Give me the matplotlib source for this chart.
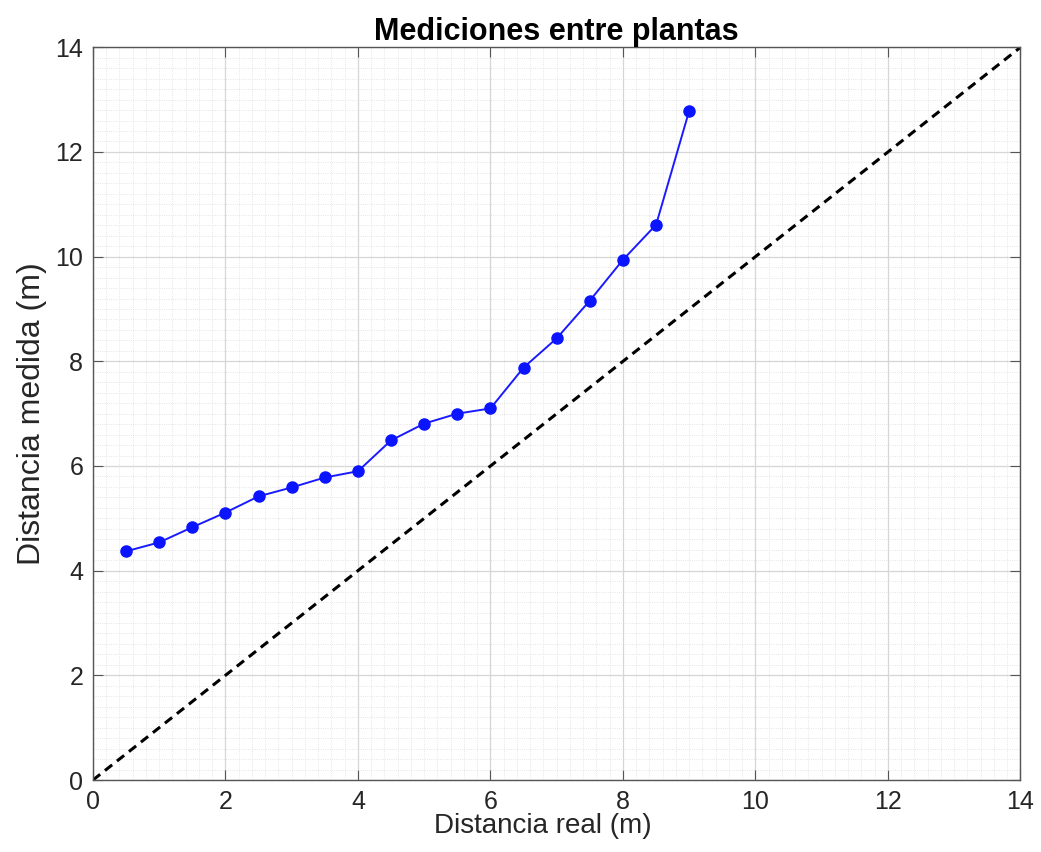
import matplotlib
matplotlib.use("Agg")
import matplotlib.pyplot as plt
import numpy as np
from matplotlib.ticker import MultipleLocator

plt.rcParams["font.family"] = ["Liberation Sans", "DejaVu Sans"]

# distancia real (m) y distancia medida (m)
dist_real = [0.5, 1.0, 1.5, 2.0, 2.5, 3.0, 3.5, 4.0, 4.5, 5.0, 5.5, 6.0,
             6.5, 7.0, 7.5, 8.0, 8.5, 9.0]
dist_medida = [4.37, 4.54, 4.83, 5.11, 5.42, 5.59, 5.78, 5.90, 6.49, 6.81,
               7.00, 7.10, 7.88, 8.44, 9.16, 9.94, 10.61, 12.79]
ideal = [0, 14]

fig = plt.figure(figsize=(10.41, 8.52), dpi=100)
ax = fig.add_axes([0.0893, 0.0845, 0.891, 0.860])

ax.plot(dist_real, dist_medida, "-o", color="#1a1aff", lw=1.4,
        markersize=8, markerfacecolor="#0a14ff", markeredgecolor="#0a14ff", zorder=3)
ax.plot(ideal, ideal, "--", color="black", lw=2.2, dashes=(3, 2), zorder=2)

ax.set_xlim(0, 14)
ax.set_ylim(0, 14)
ax.xaxis.set_major_locator(MultipleLocator(2))
ax.yaxis.set_major_locator(MultipleLocator(2))
ax.xaxis.set_minor_locator(MultipleLocator(0.2))
ax.yaxis.set_minor_locator(MultipleLocator(0.2))
ax.grid(which="major", color="#d6d6d6", lw=0.9)
ax.grid(which="minor", color="#dddddd", lw=0.6, ls=":")
ax.set_axisbelow(True)

ax.tick_params(which="both", direction="in", top=True, right=True,
               labelsize=18, color="#555555", labelcolor="#262626")
ax.tick_params(which="major", length=7, pad=7)
ax.tick_params(which="minor", length=0)
for s in ax.spines.values():
    s.set_color("#555555")
    s.set_linewidth(1.0)

ax.set_xlabel("Distancia real (m)", fontsize=20, labelpad=0, color="#262626")
ax.xaxis.set_label_coords(0.485, -0.045)
ax.set_ylabel("Distancia medida (m)", fontsize=23, labelpad=6, color="#262626")
ax.set_title("Mediciones entre plantas", fontsize=22, fontweight="bold", pad=5)

fig.savefig("out.png", dpi=100)
